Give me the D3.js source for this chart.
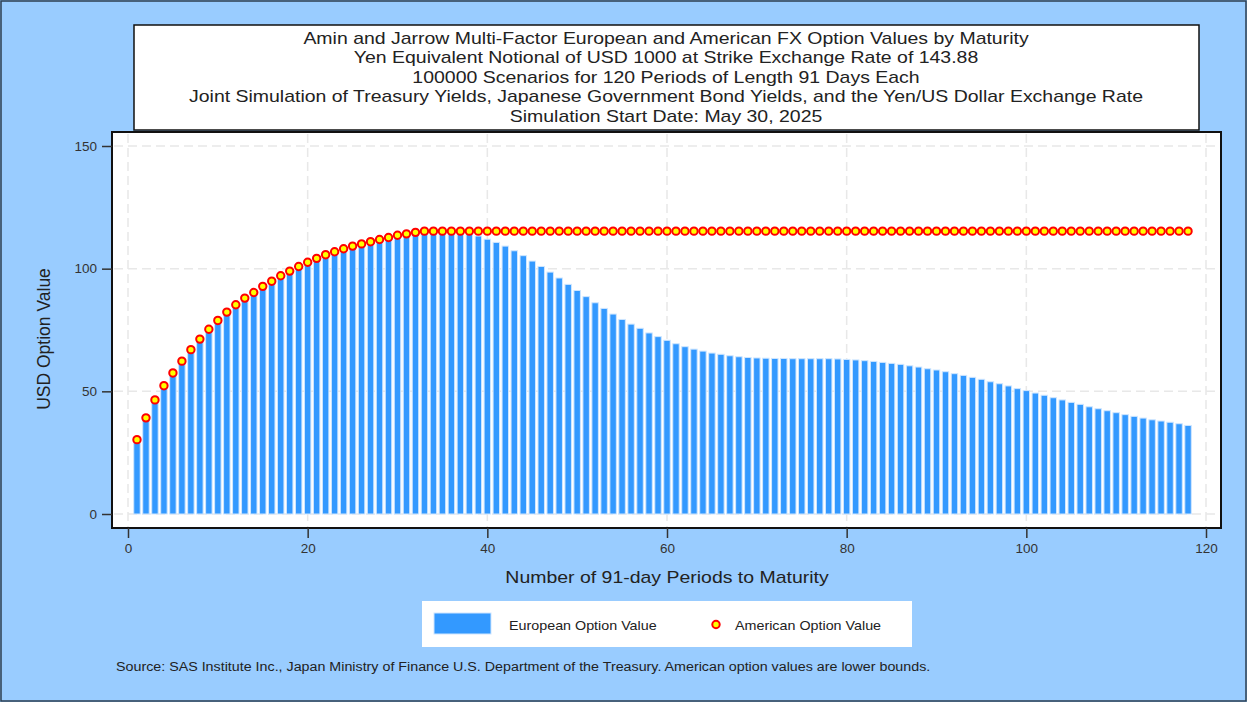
<!DOCTYPE html>
<html>
<head>
<meta charset="utf-8">
<script src="https://cdn.jsdelivr.net/npm/d3@7"></script>
<style>
  html, body { margin: 0; padding: 0; background: #99ccff; }
  svg { display: block; font-family: "Liberation Sans", Arial, sans-serif; }
</style>
</head>
<body>
<div class="chart"></div>
<script>
    // Data

    var periods = d3.range(1, 119);   // 1 .. 118
    var european = [
        30.3, 39.2, 46.5, 52.3, 57.5, 62.3, 67.0, 71.3, 75.3, 78.9,
        82.3, 85.3, 88.0, 90.3, 92.8, 94.9, 97.1, 99.0, 100.9, 102.6,
        104.2, 105.7, 106.9, 108.1, 109.2, 110.1, 111.0, 111.9, 112.7, 113.6,
        114.2, 114.8, 115.2, 115.3, 115.3, 115.2, 114.9, 114.3, 113.3, 112.0,
        110.7, 109.2, 107.3, 105.3, 103.1, 100.9, 98.6, 96.2, 93.6, 91.1,
        88.6, 86.1, 83.8, 81.5, 79.3, 77.4, 75.7, 73.8, 72.3, 70.8,
        69.4, 68.2, 67.2, 66.4, 65.6, 65.1, 64.5, 64.1, 63.8, 63.6,
        63.5, 63.4, 63.4, 63.3, 63.3, 63.3, 63.3, 63.3, 63.2, 63.0,
        62.8, 62.5, 62.2, 61.8, 61.4, 61.0, 60.4, 59.9, 59.2, 58.7,
        58.0, 57.2, 56.5, 55.7, 54.9, 53.9, 53.1, 52.2, 51.1, 50.3,
        49.3, 48.4, 47.4, 46.5, 45.5, 44.7, 43.7, 42.9, 42.1, 41.3,
        40.5, 39.8, 39.1, 38.4, 37.9, 37.4, 36.8, 36.1
    ];
    var american = [
        30.3, 39.2, 46.5, 52.3, 57.5, 62.3, 67.0, 71.3, 75.3, 78.9,
        82.3, 85.3, 88.0, 90.3, 92.8, 94.9, 97.1, 99.0, 100.9, 102.6,
        104.2, 105.7, 106.9, 108.1, 109.2, 110.1, 111.0, 111.9, 112.7, 113.6,
        114.2, 114.8, 115.3, 115.3, 115.3, 115.3, 115.3, 115.3, 115.3, 115.3,
        115.3, 115.3, 115.3, 115.3, 115.3, 115.3, 115.3, 115.3, 115.3, 115.3,
        115.3, 115.3, 115.3, 115.3, 115.3, 115.3, 115.3, 115.3, 115.3, 115.3,
        115.3, 115.3, 115.3, 115.3, 115.3, 115.3, 115.3, 115.3, 115.3, 115.3,
        115.3, 115.3, 115.3, 115.3, 115.3, 115.3, 115.3, 115.3, 115.3, 115.3,
        115.3, 115.3, 115.3, 115.3, 115.3, 115.3, 115.3, 115.3, 115.3, 115.3,
        115.3, 115.3, 115.3, 115.3, 115.3, 115.3, 115.3, 115.3, 115.3, 115.3,
        115.3, 115.3, 115.3, 115.3, 115.3, 115.3, 115.3, 115.3, 115.3, 115.3,
        115.3, 115.3, 115.3, 115.3, 115.3, 115.3, 115.3, 115.3
    ];
    var xTicks = [0, 20, 40, 60, 80, 100, 120];
    var yTicks = [0, 50, 100, 150];
    var titleLines = [
        'Amin and Jarrow Multi-Factor European and American FX Option Values by Maturity',
        'Yen Equivalent Notional of USD 1000 at Strike Exchange Rate of 143.88',
        '100000 Scenarios for 120 Periods of Length 91 Days Each',
        'Joint Simulation of Treasury Yields, Japanese Government Bond Yields, and the Yen/US Dollar Exchange Rate',
        'Simulation Start Date: May 30, 2025'
    ];
    var legendLabels = ['European Option Value', 'American Option Value'];
    var footnote = 'Source: SAS Institute Inc., Japan Ministry of Finance U.S. Department of the Treasury. American option values are lower bounds.';

    // Layout

    var W = 1247, H = 702;
    var plot = { left: 112, right: 1221, top: 132, bottom: 528 };
    var ink = '#222';
    var wide = 1.145;    // reference text is drawn a bit wider than it is tall

    // put a text at (x, y) and stretch it horizontally
    function place(sel, px, py, sx) {
        sel.attr('x', 0).attr('y', 0)
            .attr('transform', function (d, i) {
                var xx = typeof px === 'function' ? px(d, i) : px;
                var yy = typeof py === 'function' ? py(d, i) : py;
                return 'translate(' + xx + ',' + yy + ') scale(' + sx + ',1)';
            });
    }

    var svg = d3.select('.chart')
        .append('svg')
            .attr('width', W)
            .attr('height', H);

    // outer border
    svg.append('rect')
        .attr('x', 1).attr('y', 1)
        .attr('width', W - 2).attr('height', H - 2)
        .attr('fill', '#99ccff')
        .attr('stroke', '#2c3e50')
        .attr('stroke-width', 1.5);

    var x = d3.scaleLinear().domain([0, 120]).range([128, 1206]);
    var y = d3.scaleLinear().domain([0, 150]).range([514, 146]);

    // Plot background
    svg.append('rect')
        .attr('x', plot.left).attr('y', plot.top)
        .attr('width', plot.right - plot.left)
        .attr('height', plot.bottom - plot.top)
        .attr('fill', '#fff');

    // Grid (dashed)
    svg.selectAll('line.gx')
        .data(xTicks)
        .enter()
        .append('line')
            .attr('x1', function (d) { return x(d); })
            .attr('x2', function (d) { return x(d); })
            .attr('y1', plot.top + 2)
            .attr('y2', plot.bottom - 1)
            .attr('stroke', '#e8e8e8')
            .attr('stroke-width', 1.5)
            .attr('stroke-dasharray', '9,5');

    svg.selectAll('line.gy')
        .data(yTicks)
        .enter()
        .append('line')
            .attr('x1', plot.left + 2)
            .attr('x2', plot.right)
            .attr('y1', function (d) { return y(d); })
            .attr('y2', function (d) { return y(d); })
            .attr('stroke', '#e8e8e8')
            .attr('stroke-width', 1.5)
            .attr('stroke-dasharray', '9,5');

    // Bars
    var step = x(1) - x(0);
    var barW = step * 0.72;
    svg.selectAll('rect.bar')
        .data(periods)
        .enter()
        .append('rect')
            .attr('class', 'bar')
            .attr('x', function (d) { return x(d) - barW / 2; })
            .attr('y', function (d, i) { return y(european[i]); })
            .attr('width', barW)
            .attr('height', function (d, i) { return y(0) - y(european[i]); })
            .attr('fill', '#3399ff')
            .attr('stroke', '#cfe6ff')
            .attr('stroke-width', 1);

    // American dots
    svg.selectAll('circle.am')
        .data(periods)
        .enter()
        .append('circle')
            .attr('cx', function (d) { return x(d); })
            .attr('cy', function (d, i) { return y(american[i]); })
            .attr('r', 3.7)
            .attr('fill', '#ffff00')
            .attr('stroke', '#ff0000')
            .attr('stroke-width', 2);

    // Frame
    svg.append('rect')
        .attr('x', plot.left).attr('y', plot.top)
        .attr('width', plot.right - plot.left)
        .attr('height', plot.bottom - plot.top)
        .attr('fill', 'none')
        .attr('stroke', '#111')
        .attr('stroke-width', 2);

    // Axes
    var xAxis = svg.append('g')
        .attr('transform', 'translate(0,' + plot.bottom + ')')
        .call(d3.axisBottom(x).tickValues(xTicks).tickSize(10).tickPadding(5));
    var yAxis = svg.append('g')
        .attr('transform', 'translate(' + plot.left + ',0)')
        .call(d3.axisLeft(y).tickValues(yTicks).tickSize(10).tickPadding(5));

    [xAxis, yAxis].forEach(function (g) {
        g.select('.domain').remove();
        g.selectAll('line').attr('stroke', '#333').attr('stroke-width', 1.5);
        g.selectAll('text')
            .attr('fill', '#333')
            .style('font-size', '13.5px')
            .style('font-family', '"Liberation Sans", Arial, sans-serif');
    });

    // Axis titles
    svg.append('text')
        .text('Number of 91-day Periods to Maturity')
        .attr('text-anchor', 'middle')
        .attr('fill', ink)
        .style('font-size', '17px')
        .call(place, 667, 583, wide);

    svg.append('text')
        .text('USD Option Value')
        .attr('transform', 'translate(50,339) rotate(-90)')
        .attr('text-anchor', 'middle')
        .attr('fill', ink)
        .style('font-size', '17.5px');

    // Title box
    svg.append('rect')
        .attr('x', 134).attr('y', 25)
        .attr('width', 1199 - 134).attr('height', 105)
        .attr('fill', '#fff')
        .attr('stroke', '#111')
        .attr('stroke-width', 1.5);

    svg.selectAll('text.title')
        .data(titleLines)
        .enter()
        .append('text')
        .text(function (d) { return d; })
        .attr('text-anchor', 'middle')
        .attr('fill', ink)
        .style('font-size', '17px')
        .call(place, 666, function (d, i) { return 44 + i * 19.4; }, wide);

    // Legend
    svg.append('rect')
        .attr('x', 422).attr('y', 601)
        .attr('width', 490).attr('height', 46)
        .attr('fill', '#fff');

    svg.append('rect')
        .attr('x', 434).attr('y', 613)
        .attr('width', 57).attr('height', 21)
        .attr('fill', '#3399ff')
        .attr('stroke', '#cfe6ff')
        .attr('stroke-width', 1);

    svg.append('circle')
        .attr('cx', 716).attr('cy', 624.5)
        .attr('r', 3.7)
        .attr('fill', '#ffff00')
        .attr('stroke', '#ff0000')
        .attr('stroke-width', 2);

    svg.selectAll('text.legend')
        .data(legendLabels)
        .enter()
        .append('text')
        .text(function (d) { return d; })
        .attr('fill', ink)
        .style('font-size', '13.5px')
        .call(place, function (d, i) { return i === 0 ? 509 : 735; }, 629.5, 1.06);

    // Footnote
    svg.append('text')
        .text(footnote)
        .attr('fill', ink)
        .style('font-size', '12.5px')
        .call(place, 116, 670.5, 1.143);
</script>
</body>
</html>
